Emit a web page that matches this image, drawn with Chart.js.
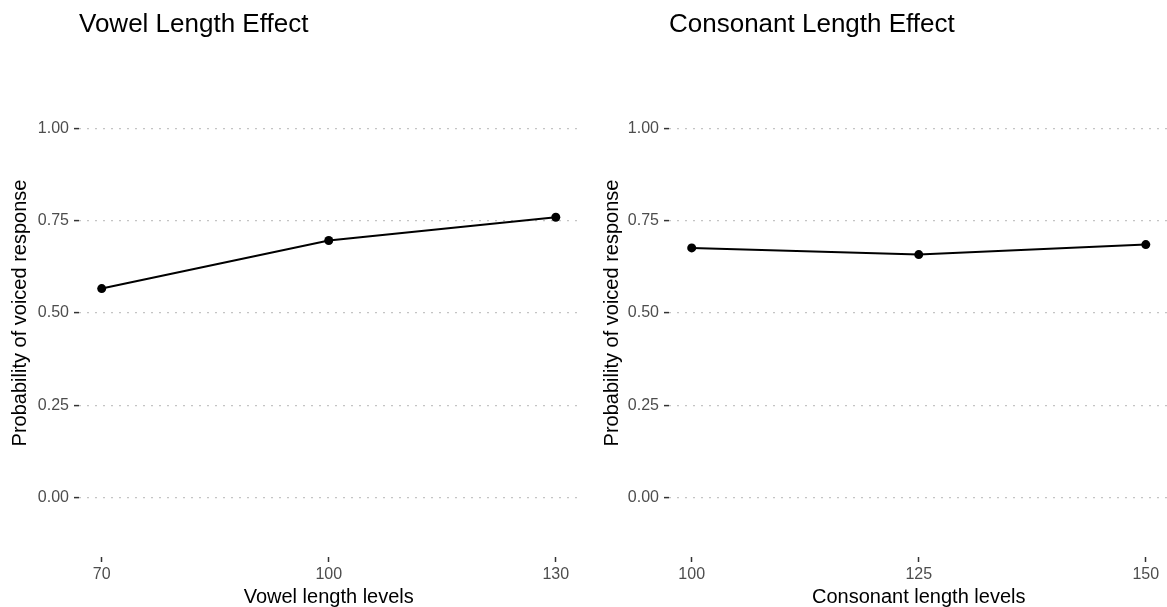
<!DOCTYPE html>
<html>
<head>
<meta charset="utf-8">
<title>Length effects</title>
<script src="https://cdn.jsdelivr.net/npm/chart.js@4/dist/chart.umd.min.js"></script>
<style>
  html, body { margin: 0; padding: 0; background: #fff; overflow: hidden; }
  #wrap { position: relative; width: 1167px; height: 607px; }
  canvas { position: absolute; top: 0; }
  #vowelChart { left: 0; }
  #consChart { left: 583px; }
</style>
</head>
<body>
<div id="wrap">
  <canvas id="vowelChart" width="583" height="607"></canvas>
  <canvas id="consChart" width="590" height="607"></canvas>
</div>
<script>
// data for both panels
const vowelLevels = [70, 100, 130];
const vowelProb = [0.566, 0.696, 0.759];
const consLevels = [100, 125, 150];
const consProb = [0.676, 0.658, 0.685];
const probTicks = [0, 0.25, 0.5, 0.75, 1];

const FONT = 'Liberation Sans, Arial, Helvetica, sans-serif';

function makePanel(canvasId, opts) {
    const ctx = document.getElementById(canvasId).getContext('2d');
    const points = opts.levels.map((lv, i) => ({ x: lv, y: opts.values[i] }));
    return new Chart(ctx, {
        type: 'line',
        data: {
            datasets: [{
                data: points,
                borderColor: '#000',
                borderWidth: 2,
                pointRadius: 4.5,
                pointBackgroundColor: '#000',
                pointBorderWidth: 0,
                tension: 0
            }]
        },
        options: {
            responsive: false,
            animation: false,
            devicePixelRatio: 1,
            layout: { padding: { left: 0, right: opts.padRight, top: 0, bottom: 0 } },
            plugins: {
                legend: { display: false },
                tooltip: { enabled: false },
                title: {
                    display: true,
                    text: opts.title,
                    align: 'start',
                    fullSize: false,
                    color: '#000',
                    font: { family: FONT, size: 26, weight: 'normal', lineHeight: 1.2 },
                    padding: { top: 9, bottom: 28.8 }
                }
            },
            scales: {
                x: {
                    type: 'linear',
                    min: opts.xMin,
                    max: opts.xMax,
                    afterBuildTicks: (scale) => {
                        scale.ticks = opts.levels.map(v => ({ value: v }));
                    },
                    afterFit: (scale) => { scale.height = 50; },
                    ticks: {
                        color: '#4d4d4d',
                        padding: 3,
                        font: { family: FONT, size: 16 },
                        callback: (v) => String(v)
                    },
                    grid: {
                        drawOnChartArea: false,
                        drawTicks: true,
                        tickLength: 5,
                        tickColor: '#333',
                        tickWidth: 1.5
                    },
                    border: { display: false },
                    title: {
                        display: true,
                        text: opts.xTitle,
                        color: '#000',
                        font: { family: FONT, size: 20, lineHeight: 1.0 },
                        padding: { top: 0, bottom: 0 }
                    }
                },
                y: {
                    min: -0.16,
                    max: 1.16,
                    afterBuildTicks: (scale) => {
                        scale.ticks = probTicks.map(v => ({ value: v }));
                    },
                    afterFit: (scale) => { scale.width = opts.yWidth; },
                    ticks: {
                        color: '#4d4d4d',
                        padding: 5,
                        font: { family: FONT, size: 16 },
                        callback: (v) => v.toFixed(2)
                    },
                    grid: {
                        color: '#c4c4c4',
                        lineWidth: 1.2,
                        tickLength: 5,
                        tickColor: '#333',
                        tickWidth: 1.5,
                        tickBorderDash: []
                    },
                    border: { display: false, dash: [2, 6] },
                    title: {
                        display: true,
                        text: 'Probability of voiced response',
                        color: '#000',
                        font: { family: FONT, size: 20, lineHeight: 1.2 },
                        padding: { top: opts.yTitlePad, bottom: 0 }
                    }
                }
            }
        }
    });
}

makePanel('vowelChart', {
    levels: vowelLevels,
    values: vowelProb,
    title: 'Vowel Length Effect',
    xTitle: 'Vowel length levels',
    xMin: 67, xMax: 133,
    yWidth: 79, yTitlePad: 8, padRight: 2
});

makePanel('consChart', {
    levels: consLevels,
    values: consProb,
    title: 'Consonant Length Effect',
    xTitle: 'Consonant length levels',
    xMin: 97.5, xMax: 152.5,
    yWidth: 86, yTitlePad: 17, padRight: 3
});
</script>
</body>
</html>
